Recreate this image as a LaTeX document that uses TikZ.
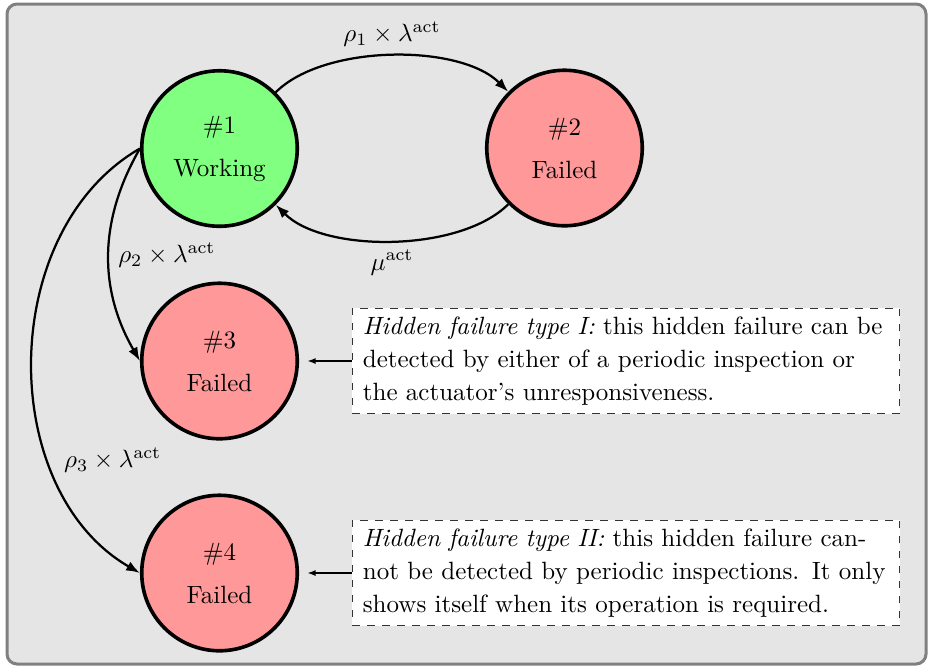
\documentclass[tikz,border=0pt]{standalone}
\usetikzlibrary{arrows.meta}
\begin{document}
\begin{tikzpicture}[x=0.4pt,y=-0.4pt,
  state/.style={circle, draw=black, line width=1.45pt, minimum size=62.2pt,
    inner sep=0pt, align=center, font=\fontsize{10}{12}\selectfont},
  working/.style={state, fill=green!50},
  failed/.style={state, fill=red!40},
  trans/.style={-{Latex[length=5.5pt,width=4pt]}, line width=0.9pt},
  note/.style={draw=black!80, dashed, line width=0.45pt, fill=white,
    text width=210.5pt, align=left, inner xsep=4.3pt, minimum height=40.8pt,
    font=\fontsize{10}{13.2}\selectfont},
  pointer/.style={-{Latex[length=3.2pt,width=2.4pt]}, line width=0.5pt, shorten >=3.4pt}
]
\useasboundingbox (0,0) rectangle (930,669);
% panel behind the chain
\draw[rounded corners=4pt, line width=1.2pt, draw=black!50, fill=black!10]
  (7,4) rectangle (926,664);

% states
\node[working] (n1) at (219.5,148.5) {\#1\\[5.2pt]Working};
\node[failed]  (n2) at (564.5,148)   {\#2\\[5.2pt]Failed};
\node[failed]  (n3) at (219.5,361)   {\#3\\[5.2pt]Failed};
\node[failed]  (n4) at (219.5,573)   {\#4\\[5.2pt]Failed};

% explanatory notes
\node[note] (h1) at (626,361) {\textit{Hidden failure type I:} this hidden failure can be\\
  detected by either of a periodic inspection or\\ the actuator's unresponsiveness.};
\node[note] (h2) at (626,573) {\textit{Hidden failure type II:} this hidden failure can-\\
  not be detected by periodic inspections. It only\\ shows itself when its operation is required.};

% transitions
\draw[trans] (n1) to[out=45,in=135,looseness=0.75]
  node[above] {$\rho_1\times\lambda^{\mathrm{act}}$} (n2);
\draw[trans] (n2) to[out=-135,in=-45,looseness=0.75]
  node[below] {$\mu^{\mathrm{act}}$} (n1);
\draw[trans] (n1.west) to[bend right=30]
  node[right] {$\rho_2\times\lambda^{\mathrm{act}}$} (n3.west);
\draw[trans] (n1.west) to[bend right=60]
  node[pos=0.7,right,xshift=2pt] {$\rho_3\times\lambda^{\mathrm{act}}$} (n4.west);

% note pointers
\draw[pointer] (h1.west) -- (n3.east);
\draw[pointer] (h2.west) -- (n4.east);
\end{tikzpicture}
\end{document}
